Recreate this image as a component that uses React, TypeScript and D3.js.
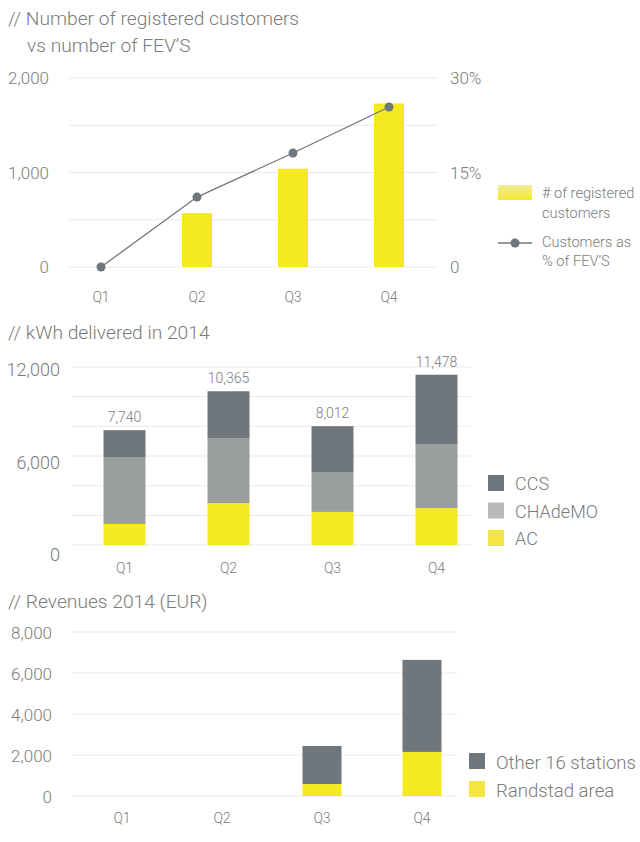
import React, { useEffect, useRef } from 'react';
import * as d3 from 'd3';

const quarters = ['Q1', 'Q2', 'Q3', 'Q4'];

// chart 1
const customers = [0, 570, 1040, 1730];
const customerPct = [0, 11.1, 18.1, 25.4];
const customerTicks = [0, 1000, 2000];
const pctTicks = [0, 15, 30];
const customerGrid = [0, 500, 1000, 1500, 2000];

// chart 2
const kwhAC = [1420, 2830, 2230, 2490];
const kwhCHAdeMO = [4510, 4380, 2690, 4320];
const kwhCCS = [1810, 3155, 3090, 4670];
const kwhTotals = [7740, 10365, 8012, 11478];
const kwhTicks = [0, 6000, 12000];
const kwhGrid = [0, 2000, 4000, 6000, 8000, 10000, 12000];

// chart 3
const revRandstad = [0, 0, 585, 2150];
const revOther = [0, 0, 1855, 4490];
const revTicks = [0, 2000, 4000, 6000, 8000];

const TEXT = '#7b7b7b';
const GRID = '#e9e9e9';
const YELLOW = '#f5ea22';
const DARK = '#70777c';
const MID = '#9a9f9d';
const FONT = 'Roboto, Arial, sans-serif';
const fmt = d3.format(',');

const App = () => {
  const ref = useRef<SVGSVGElement>(null);

  useEffect(() => {
    if (!ref.current) return;
    const svg = d3.select(ref.current);
    svg.selectAll('*').remove();

    const defs = svg.append('defs');
    const grad = defs.append('linearGradient').attr('id', 'ylw').attr('x1', 0).attr('x2', 0).attr('y1', 0).attr('y2', 1);
    grad.append('stop').attr('offset', '0%').attr('stop-color', '#f0ec9a');
    grad.append('stop').attr('offset', '100%').attr('stop-color', '#f3e82c');

    const txt = (x: number, y: number, s: string, size: number, anchor = 'start') =>
      svg.append('text')
        .attr('x', x).attr('y', y)
        .attr('fill', TEXT)
        .attr('text-anchor', anchor)
        .style('font-family', FONT)
        .style('font-size', size + 'px')
        .style('font-weight', 300)
        .text(s);

    // ---------- chart 1 ----------
    txt(8, 25, '// Number of registered customers', 19.2);
    txt(27, 52, 'vs number of FEV\u2019S', 19.2);

    const x1 = d3.scaleBand().domain(quarters).range([53, 437]);
    const y1 = d3.scaleLinear().domain([0, 2000]).range([267, 78]);
    const y1r = d3.scaleLinear().domain([0, 30]).range([267, 78]);

    svg.append('g').selectAll('line').data(customerGrid).join('line')
      .attr('x1', 69).attr('x2', 437)
      .attr('y1', d => y1(d)).attr('y2', d => y1(d))
      .attr('stroke', GRID).attr('stroke-width', 1);

    customerTicks.forEach(d => txt(49, y1(d) + 6, fmt(d), 17, 'end'));
    pctTicks.forEach(d => txt(450, y1r(d) + 6, d === 0 ? '0' : d + '%', 17));

    svg.append('g').selectAll('rect').data(customers).join('rect')
      .attr('x', (d, i) => x1(quarters[i])! + x1.bandwidth() / 2 - 15)
      .attr('width', 30)
      .attr('y', d => y1(d))
      .attr('height', d => y1(0) - y1(d))
      .attr('fill', YELLOW);

    const line = d3.line<number>()
      .x((d, i) => x1(quarters[i])! + x1.bandwidth() / 2)
      .y(d => y1r(d));
    svg.append('path').datum(customerPct)
      .attr('d', line)
      .attr('fill', 'none')
      .attr('stroke', DARK)
      .attr('stroke-width', 1.3);
    svg.append('g').selectAll('circle').data(customerPct).join('circle')
      .attr('cx', (d, i) => x1(quarters[i])! + x1.bandwidth() / 2)
      .attr('cy', d => y1r(d))
      .attr('r', 4.5)
      .attr('fill', DARK);

    quarters.forEach(q => txt(x1(q)! + x1.bandwidth() / 2, 302, q, 14, 'middle'));

    // legend 1
    svg.append('rect').attr('x', 498).attr('y', 185).attr('width', 34).attr('height', 15).attr('fill', 'url(#ylw)');
    txt(542, 198, '# of registered', 14.6);
    txt(542, 218, 'customers', 14.6);
    svg.append('line').attr('x1', 498).attr('x2', 532).attr('y1', 243).attr('y2', 243).attr('stroke', DARK).attr('stroke-width', 1.3);
    svg.append('circle').attr('cx', 515).attr('cy', 243).attr('r', 4.5).attr('fill', DARK);
    txt(542, 247, 'Customers as', 14.6);
    txt(542, 266, '% of FEV\u2019S', 14.6);

    // ---------- chart 2 ----------
    txt(8, 339, '// kWh delivered in 2014', 19.2);

    const x2 = d3.scaleBand().domain(quarters).range([72.5, 488.5]);
    const y2 = d3.scaleLinear().domain([0, 12000]).range([545, 367]);
    const y2lab = d3.scaleLinear().domain([0, 12000]).range([555, 370]);

    svg.append('g').selectAll('line').data(kwhGrid).join('line')
      .attr('x1', 72).attr('x2', 471)
      .attr('y1', d => y2(d)).attr('y2', d => y2(d))
      .attr('stroke', GRID).attr('stroke-width', 1);

    kwhTicks.forEach(d => txt(60, y2lab(d) + 6, fmt(d), 18, 'end'));

    const kwhRows = quarters.map((q, i) => ({ q, AC: kwhAC[i], CHAdeMO: kwhCHAdeMO[i], CCS: kwhCCS[i] }));
    const kwhKeys = ['AC', 'CHAdeMO', 'CCS'];
    const kwhColors: Record<string, string> = { AC: YELLOW, CHAdeMO: MID, CCS: DARK };
    const stack2 = d3.stack<any>().keys(kwhKeys)(kwhRows);
    stack2.forEach(layer => {
      svg.append('g').selectAll('rect').data(layer).join('rect')
        .attr('x', d => x2(d.data.q)! + x2.bandwidth() / 2 - 21)
        .attr('width', 42)
        .attr('y', d => y2(d[1]))
        .attr('height', d => y2(d[0]) - y2(d[1]))
        .attr('fill', kwhColors[layer.key]);
    });
    quarters.forEach((q, i) => {
      txt(x2(q)! + x2.bandwidth() / 2, y2(kwhTotals[i]) - 8, fmt(kwhTotals[i]), 14, 'middle');
      txt(x2(q)! + x2.bandwidth() / 2, 573, q, 14, 'middle');
    });

    const leg2 = [
      { label: 'CCS', color: DARK },
      { label: 'CHAdeMO', color: '#b7bab9' },
      { label: 'AC', color: '#f3e640' },
    ];
    leg2.forEach((l, i) => {
      svg.append('rect').attr('x', 488).attr('y', 475 + i * 27.5).attr('width', 16).attr('height', 16).attr('fill', l.color);
      txt(515, 490 + i * 27.5, l.label, 18);
    });

    // ---------- chart 3 ----------
    txt(8, 608, '// Revenues 2014 (EUR)', 19.2);

    const x3 = d3.scaleBand().domain(quarters).range([72, 472]);
    const y3 = d3.scaleLinear().domain([0, 8000]).range([796, 632]);

    svg.append('g').selectAll('line').data(revTicks).join('line')
      .attr('x1', 72).attr('x2', 457)
      .attr('y1', d => y3(d)).attr('y2', d => y3(d))
      .attr('stroke', GRID).attr('stroke-width', 1);

    revTicks.forEach(d => txt(52, y3(d) + 7, fmt(d), 17, 'end'));

    const revRows = quarters.map((q, i) => ({ q, Randstad: revRandstad[i], Other: revOther[i] }));
    const revColors: Record<string, string> = { Randstad: YELLOW, Other: DARK };
    const stack3 = d3.stack<any>().keys(['Randstad', 'Other'])(revRows);
    stack3.forEach(layer => {
      svg.append('g').selectAll('rect').data(layer).join('rect')
        .attr('x', d => x3(d.data.q)! + x3.bandwidth() / 2 - 19.5)
        .attr('width', 39)
        .attr('y', d => y3(d[1]))
        .attr('height', d => y3(d[0]) - y3(d[1]))
        .attr('fill', revColors[layer.key]);
    });
    quarters.forEach(q => txt(x3(q)! + x3.bandwidth() / 2, 823, q, 14, 'middle'));

    const leg3 = [
      { label: 'Other 16 stations', color: DARK },
      { label: 'Randstad area', color: '#f3e640' },
    ];
    leg3.forEach((l, i) => {
      svg.append('rect').attr('x', 469).attr('y', 753 + i * 28).attr('width', 16).attr('height', 16).attr('fill', l.color);
      txt(496, 769 + i * 28, l.label, 18.6);
    });
  }, []);

  return (
    <svg
      ref={ref}
      width={640}
      height={842}
      style={{ position: 'absolute', left: 0, top: 0, background: '#fff' }}
    />
  );
};

export default App;
